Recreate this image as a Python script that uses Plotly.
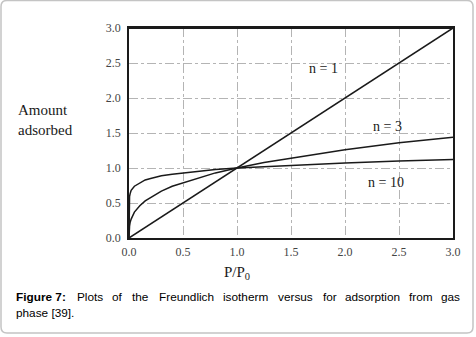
import plotly.graph_objects as go

# ---- data ----
p_ratio = [0, 0.001, 0.005, 0.01, 0.02, 0.05, 0.1, 0.15, 0.2, 0.3, 0.4, 0.5,
           0.6, 0.8, 1.0, 1.25, 1.5, 2.0, 2.5, 3.0]
amount_n1 = [0, 0.001, 0.005, 0.01, 0.02, 0.05, 0.1, 0.15, 0.2, 0.3, 0.4, 0.5,
             0.6, 0.8, 1.0, 1.25, 1.5, 2.0, 2.5, 3.0]
amount_n3 = [0, 0.10, 0.17, 0.22, 0.27, 0.37, 0.46, 0.53, 0.58, 0.67, 0.74, 0.79,
             0.84, 0.93, 1.0, 1.08, 1.14, 1.26, 1.36, 1.44]
amount_n10 = [0, 0.50, 0.59, 0.63, 0.68, 0.74, 0.79, 0.83, 0.85, 0.89, 0.91, 0.93,
              0.95, 0.98, 1.0, 1.02, 1.04, 1.07, 1.10, 1.12]
tick_vals = [0, 0.5, 1.0, 1.5, 2.0, 2.5, 3.0]
tick_text = ["0.0", "0.5", "1.0", "1.5", "2.0", "2.5", "3.0"]
curve_labels = ["n = 1", "n = 3", "n = 10"]
label_pos = [(1.80, 2.42), (2.39, 1.60), (2.38, 0.80)]
caption_words = ["Plots", "of", "the", "Freundlich", "isotherm", "versus", "for",
                 "adsorption", "from", "gas"]
caption_x = [76, 111, 131, 158, 222, 277, 322, 344, 408, 440]

W, H = 476, 337
L, R, T, B = 129, 453, 28, 238
SERIF = "Liberation Serif, Times New Roman, serif"
SANS = "Liberation Sans, Arial, sans-serif"
CAP = 11.8


def px(x):
    return (x - L) / (R - L)


def py(y):
    return (B - y) / (B - T)


fig = go.Figure()
for ys in (amount_n1, amount_n3, amount_n10):
    fig.add_trace(go.Scatter(x=p_ratio, y=ys, mode="lines",
                             line=dict(color="#1a1a1a", width=1.5),
                             showlegend=False, hoverinfo="skip"))

axis_common = dict(range=[0, 3], tickvals=tick_vals, ticktext=tick_text,
                   showgrid=True, gridcolor="#b4b4b4", gridwidth=1, griddash="dashdot",
                   showline=True, linecolor="#1a1a1a", linewidth=1.5, mirror=True,
                   ticks="", zeroline=False,
                   tickfont=dict(family=SERIF, size=12, color="#444"))

fig.update_xaxes(**axis_common, ticklabelstandoff=2)
fig.update_yaxes(**axis_common, ticklabelstandoff=4)

annotations = []
for txt, (x, y) in zip(curve_labels, label_pos):
    annotations.append(dict(x=x, y=y, xref="x", yref="y", text=txt, showarrow=False,
                            font=dict(family=SERIF, size=14, color="#1a1a1a")))
annotations.append(dict(x=px(16), y=py(110), xref="paper", yref="paper", text="Amount",
                        xanchor="left", yanchor="middle", showarrow=False,
                        font=dict(family=SERIF, size=15, color="#1a1a1a")))
annotations.append(dict(x=px(16), y=py(130), xref="paper", yref="paper", text="adsorbed",
                        xanchor="left", yanchor="middle", showarrow=False,
                        font=dict(family=SERIF, size=15, color="#1a1a1a")))
annotations.append(dict(x=px(237), y=py(273), xref="paper", yref="paper",
                        text="P/P<sub>0</sub>", xanchor="center", yanchor="middle",
                        showarrow=False, font=dict(family=SERIF, size=15, color="#1a1a1a")))
annotations.append(dict(x=px(15), y=py(297), xref="paper", yref="paper",
                        text="<b>Figure 7:</b>", xanchor="left", yanchor="middle", borderpad=0,
                        showarrow=False, font=dict(family=SANS, size=CAP, color="#000")))
for w, xw in zip(caption_words, caption_x):
    annotations.append(dict(x=px(xw), y=py(297), xref="paper", yref="paper", text=w,
                            xanchor="left", yanchor="middle", showarrow=False, borderpad=0,
                            font=dict(family=SANS, size=CAP, color="#000")))
annotations.append(dict(x=px(15), y=py(313), xref="paper", yref="paper",
                        text="phase [39].", xanchor="left", yanchor="middle", borderpad=0,
                        showarrow=False, font=dict(family=SANS, size=CAP, color="#000")))

# rounded outer frame
x0, x1, y0, y1 = px(1), px(473), py(0.5), py(333)
rx = 6 / (R - L)
ry = 6 / (B - T)
path = (f"M {x0+rx},{y0} L {x1-rx},{y0} Q {x1},{y0} {x1},{y0-ry} "
        f"L {x1},{y1+ry} Q {x1},{y1} {x1-rx},{y1} L {x0+rx},{y1} "
        f"Q {x0},{y1} {x0},{y1+ry} L {x0},{y0-ry} Q {x0},{y0} {x0+rx},{y0} Z")
shapes = [dict(type="path", path=path, xref="paper", yref="paper",
               line=dict(color="#c4c4c4", width=1.5), layer="below"),
          dict(type="line", x0=0, x1=1, y0=1, y1=1, xref="paper", yref="paper",
               line=dict(color="#1a1a1a", width=2.2))]

fig.update_layout(width=W, height=H, autosize=False,
                  margin=dict(l=L, r=W - R, t=T, b=H - B, pad=0),
                  paper_bgcolor="white", plot_bgcolor="white",
                  annotations=annotations, shapes=shapes, showlegend=False)

fig.write_html("out.html", config={"displayModeBar": False},
               post_script="document.body.style.margin='0';document.body.style.overflow='hidden';")
